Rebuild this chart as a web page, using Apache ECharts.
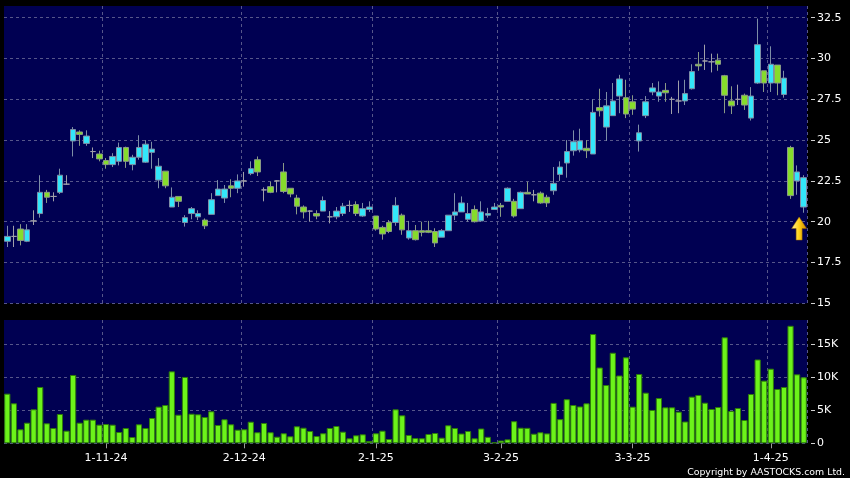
<!DOCTYPE html>
<html><head><meta charset="utf-8">
<script src="https://cdn.jsdelivr.net/npm/echarts@6/dist/echarts.min.js"></script>
<style>html,body{margin:0;padding:0;background:#000;}#c{width:850px;height:478px;}</style>
</head><body><div id="c"></div>
<script>
const dates = [
'2024-10-10','2024-10-14','2024-10-15','2024-10-16','2024-10-17','2024-10-18','2024-10-21','2024-10-22','2024-10-23','2024-10-24','2024-10-25','2024-10-28','2024-10-29','2024-10-30','2024-10-31',
'2024-11-01','2024-11-04','2024-11-05','2024-11-06','2024-11-07','2024-11-08','2024-11-11','2024-11-12','2024-11-13','2024-11-14','2024-11-15','2024-11-18','2024-11-19','2024-11-20','2024-11-21','2024-11-22','2024-11-25','2024-11-26','2024-11-27','2024-11-28','2024-11-29',
'2024-12-02','2024-12-03','2024-12-04','2024-12-05','2024-12-06','2024-12-09','2024-12-10','2024-12-11','2024-12-12','2024-12-13','2024-12-16','2024-12-17','2024-12-18','2024-12-19','2024-12-20','2024-12-23','2024-12-24','2024-12-27','2024-12-30','2024-12-31',
'2025-01-02','2025-01-03','2025-01-06','2025-01-07','2025-01-08','2025-01-09','2025-01-10','2025-01-13','2025-01-14','2025-01-15','2025-01-16','2025-01-17','2025-01-20','2025-01-21','2025-01-22','2025-01-23','2025-01-24','2025-01-27','2025-01-28',
'2025-02-03','2025-02-04','2025-02-05','2025-02-06','2025-02-07','2025-02-10','2025-02-11','2025-02-12','2025-02-13','2025-02-14','2025-02-17','2025-02-18','2025-02-19','2025-02-20','2025-02-21','2025-02-24','2025-02-25','2025-02-26','2025-02-27','2025-02-28',
'2025-03-03','2025-03-04','2025-03-05','2025-03-06','2025-03-07','2025-03-10','2025-03-11','2025-03-12','2025-03-13','2025-03-14','2025-03-17','2025-03-18','2025-03-19','2025-03-20','2025-03-21','2025-03-24','2025-03-25','2025-03-26','2025-03-27','2025-03-28','2025-03-31',
'2025-04-01','2025-04-02','2025-04-03','2025-04-07','2025-04-08','2025-04-09'];

const opens = [18.8,19.1,19.55,18.8,20.05,20.5,21.8,21.55,21.8,22.3,24.95,25.5,24.8,24.3,24.15,23.75,23.5,23.7,24.55,23.5,
23.95,23.65,24.25,22.55,23.1,20.9,21.55,19.95,20.5,20.3,20.1,20.45,21.6,21.45,22.2,22.05,22.5,22.95,23.8,21.95,
22.15,22.5,23.05,22.05,21.45,20.9,20.65,20.5,20.65,20.3,20.3,20.5,21.0,21.05,20.35,20.75,20.35,19.65,19.95,19.95,
20.4,19.0,19.45,19.45,19.45,19.4,19.05,19.45,20.4,20.6,20.15,20.75,20.05,20.4,20.75,21.0,21.25,21.25,20.8,21.8,
21.65,21.75,21.5,21.9,22.9,23.6,24.35,24.4,24.5,24.15,27.0,25.8,26.5,27.7,27.6,27.35,24.95,26.5,27.95,27.7,
28.05,27.5,27.4,27.4,28.15,29.65,29.85,29.8,29.9,28.95,27.4,27.5,27.75,26.35,28.5,29.25,28.5,29.6,27.8,24.55,
22.5,20.9];
const closes = [19.1,19.1,18.85,19.5,20.05,21.8,21.5,21.55,22.85,22.3,25.65,25.35,25.25,24.3,23.85,23.5,24.0,24.55,23.7,23.95,
24.55,24.75,24.45,23.4,22.2,21.5,21.25,20.25,20.8,20.5,19.75,21.35,22.0,22.0,22.05,22.5,22.5,23.25,23.05,21.95,
21.8,22.5,21.85,21.7,20.95,20.6,20.65,20.35,21.3,20.3,20.65,20.95,21.0,20.5,20.8,20.9,19.55,19.25,19.4,21.0,
19.5,19.45,18.9,19.35,19.35,18.7,19.45,20.4,20.6,21.15,20.5,20.0,20.6,20.5,20.9,20.9,22.05,20.35,21.8,21.7,
21.65,21.15,21.15,22.35,23.35,24.3,24.9,24.95,24.35,26.7,26.8,27.1,27.4,28.75,26.6,26.9,25.45,27.35,28.2,27.95,
27.9,27.5,27.4,27.85,29.2,29.55,29.85,29.8,29.65,27.75,27.1,27.5,27.15,27.7,30.85,28.5,29.65,28.5,28.8,21.6,
23.05,22.7];
const lows = [18.45,18.45,18.55,18.75,19.8,20.25,21.15,21.25,21.7,22.25,24.0,24.65,24.65,23.9,23.7,23.25,23.35,23.45,23.3,23.15,
23.8,23.6,23.25,22.05,22.05,20.9,20.9,19.7,20.15,20.1,19.55,20.45,21.6,21.15,21.5,21.75,22.15,22.85,22.8,21.25,
21.75,21.8,21.75,21.5,20.45,20.2,20.0,20.15,20.65,19.9,20.15,20.35,20.6,20.35,20.3,20.6,19.45,18.9,19.3,19.75,
19.2,18.9,18.85,19.1,19.3,18.45,19.05,19.45,20.1,20.6,20.0,19.95,20.0,20.25,20.75,20.3,21.25,20.25,20.8,21.7,
21.25,21.1,20.9,21.65,22.5,22.7,24.05,24.25,23.9,24.15,26.45,24.95,26.5,26.65,26.35,26.55,24.3,26.35,27.75,27.35,
27.35,26.6,26.65,27.15,28.1,29.25,29.3,29.15,29.25,26.65,26.6,27.15,26.85,26.2,28.45,27.95,27.95,27.75,27.6,21.4,
21.65,20.55];
const highs = [19.75,19.75,19.85,19.85,20.7,22.85,21.95,21.8,23.25,22.85,25.8,25.6,25.6,24.55,24.35,23.9,24.2,24.85,24.6,24.1,
25.3,25.0,24.9,23.9,23.1,22.1,21.55,20.4,20.9,20.7,20.2,21.75,22.55,22.25,22.6,22.9,23.05,23.7,24.0,22.1,
22.45,22.55,23.6,22.05,21.65,21.0,20.7,20.7,21.55,20.65,20.9,21.15,21.3,21.25,21.15,21.25,20.35,19.75,20.1,21.5,
20.5,20.05,19.8,20.0,20.05,19.6,19.55,20.4,21.75,21.55,21.15,21.0,21.25,20.85,21.15,21.15,22.1,21.4,21.85,22.45,
21.95,21.85,21.65,23.35,23.7,25.0,25.6,25.7,25.0,27.5,28.15,27.95,28.5,29.0,28.7,27.75,25.95,27.7,28.5,28.6,
28.5,27.65,28.65,28.7,29.65,30.4,30.85,30.3,30.3,29.0,28.3,28.4,27.85,28.25,32.45,29.25,30.75,29.6,29.25,24.65,
23.45,22.85];
// volume in thousands of shares
const volumes = [7.52,6.06,2.12,3.12,5.15,8.53,3.03,2.32,4.44,1.91,10.35,3.12,3.58,3.58,2.82,2.92,2.82,1.71,2.32,0.95,
2.88,2.32,3.83,5.55,5.8,10.9,4.33,10.05,4.48,4.39,3.98,4.85,2.77,3.64,2.88,2.06,2.12,3.27,1.67,3.08,
1.67,1.0,1.52,1.06,2.58,2.36,1.86,1.1,1.52,2.32,2.62,1.76,0.76,1.21,1.36,0.35,1.52,1.91,0.65,5.15,
4.24,1.26,0.8,0.76,1.41,1.56,0.85,2.73,2.32,1.48,1.86,0.76,2.24,0.98,0.15,0.42,0.6,3.35,2.36,2.34,
1.45,1.67,1.5,6.12,3.66,6.68,5.8,5.58,6.06,16.56,11.48,8.83,13.72,10.27,13.03,5.55,10.5,7.67,5.05,6.86,
5.45,5.45,4.79,3.3,7.06,7.32,6.15,5.2,5.5,16.06,4.89,5.35,3.53,7.47,12.7,9.49,11.3,8.23,8.53,17.8,
10.45,10.0];
const tickDates = ['2024-11-01','2024-12-02','2025-01-02','2025-02-03','2025-03-03','2025-04-01'];
const priceTicks = [15,17.5,20,22.5,25,27.5,30,32.5];
const volumeTicks = [0,5,10,15];
const arrowAt = {date:'2025-04-08', price:19.58};

const candleData = dates.map((d,i)=>[opens[i],closes[i],lows[i],highs[i]]);
const isTick = (idx,val)=>tickDates.indexOf(val)>=0;
const fmtDate = v=>{const p=v.split('-');return (+p[2])+'-'+(+p[1])+'-'+p[0].slice(2);};
const gridLine = {color:'#56568a', width:1, type:[3,3]};
const FONT = 'DejaVu Sans';

const chart = echarts.init(document.getElementById('c'), null, {renderer:'canvas'});
chart.setOption({
  backgroundColor:'#000000',
  animation:false,
  grid:[
    {left:4,right:43,top:6,height:297.3,show:true,backgroundColor:'#000052',borderWidth:0,outerBoundsMode:'none'},
    {left:4,right:43,top:320,height:123.3,show:true,backgroundColor:'#000052',borderWidth:0,outerBoundsMode:'none'}
  ],
  xAxis:[
    {type:'category',gridIndex:0,data:dates,boundaryGap:true,
     axisLine:{show:false},axisTick:{show:false},axisLabel:{show:false},
     splitLine:{show:true,interval:isTick,lineStyle:gridLine}},
    {type:'category',gridIndex:1,data:dates,boundaryGap:true,
     axisLine:{show:false},
     axisTick:{show:true,interval:isTick,alignWithLabel:true,length:5,lineStyle:{color:'#9a9a9a'}},
     axisLabel:{interval:isTick,formatter:fmtDate,color:'#ffffff',fontSize:11,fontFamily:FONT,margin:9},
     splitLine:{show:true,interval:isTick,lineStyle:gridLine}}
  ],
  yAxis:[
    {type:'value',gridIndex:0,position:'right',min:15,max:33.22,offset:4,
     axisLine:{show:false},
     axisTick:{show:true,length:4,customValues:priceTicks,lineStyle:{color:'#d0d0d0'}},
     axisLabel:{customValues:priceTicks,color:'#ffffff',fontSize:11,fontFamily:FONT,margin:6},
     splitLine:{show:true,lineStyle:gridLine}},
    {type:'value',gridIndex:1,position:'right',min:0,max:18.68,offset:4,
     axisLine:{show:false},
     axisTick:{show:true,length:4,customValues:volumeTicks,lineStyle:{color:'#d0d0d0'}},
     axisLabel:{customValues:volumeTicks,color:'#ffffff',fontSize:11,fontFamily:FONT,margin:6,
       formatter:v=>v===0?'0':v+'K'},
     splitLine:{show:true,lineStyle:gridLine}}
  ],
  series:[
    {type:'candlestick',xAxisIndex:0,yAxisIndex:0,data:candleData,barWidth:6,
     itemStyle:{color:'#33e6fa',color0:'#86dc2c',borderColor:'#7d8ea6',borderColor0:'#8a9a86',borderColorDoji:'#a0a0a8',borderWidth:1},
     markPoint:{silent:true,symbol:'path://M50,0 L100,50 L70,50 L70,100 L30,100 L30,50 L0,50 Z',
       symbolSize:[15,23],symbolOffset:[2,0],label:{show:false},
       itemStyle:{color:{type:'linear',x:0,y:0,x2:1,y2:0,colorStops:[{offset:0,color:'#fff49a'},{offset:0.5,color:'#ffd015'},{offset:1,color:'#c88400'}]},borderColor:'#9a6400',borderWidth:0.5},
       data:[{coord:[arrowAt.date,arrowAt.price]}]}},
    {type:'bar',xAxisIndex:1,yAxisIndex:1,data:volumes,barWidth:6.2,
     itemStyle:{color:'#6cf31a',borderColor:'#2f7d0a',borderWidth:1}}
  ],
  graphic:[{type:'text',right:5,bottom:1,style:{text:'Copyright by AASTOCKS.com Ltd.',fill:'#ffffff',font:'9.4px "DejaVu Sans"'}}]
});
</script></body></html>
